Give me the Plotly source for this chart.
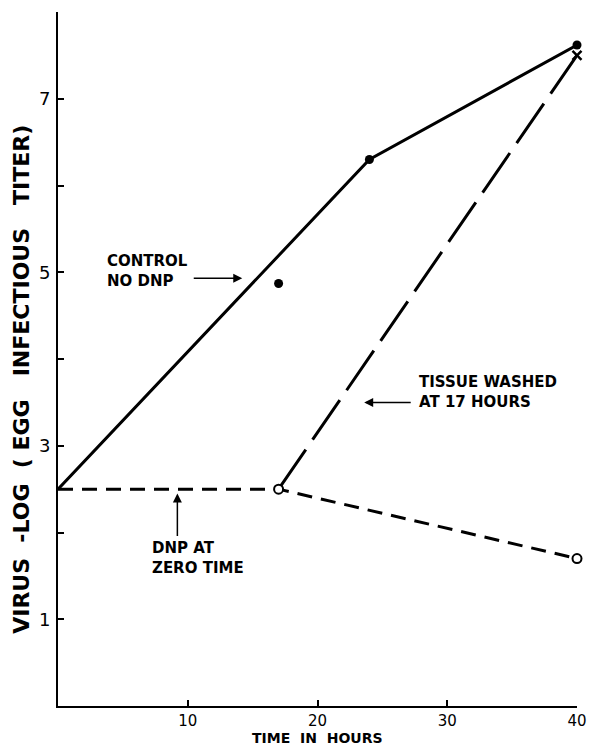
import plotly.graph_objects as go

# Control (no DNP)
control_line_x = [0, 24, 40]
control_line_y = [2.5, 6.3, 7.62]
control_pts_x = [17, 24, 40]
control_pts_y = [4.87, 6.3, 7.62]

# DNP at zero time
dnp_x = [0, 17, 40]
dnp_y = [2.5, 2.5, 1.7]
dnp_open_x = [17, 40]
dnp_open_y = [2.5, 1.7]

# Tissue washed at 17 hours
wash_x = [17, 40]
wash_y = [2.5, 7.5]

x_ticks = [10, 20, 30, 40]
y_tickvals = [1, 2, 3, 4, 5, 6, 7, 8]
y_ticktext = ["1", "", "3", "", "5", "", "7", ""]

FONT = "DejaVu Sans"
fig = go.Figure()

fig.add_trace(go.Scatter(x=control_line_x, y=control_line_y, mode="lines",
                         line=dict(color="black", width=3), cliponaxis=False,
                         showlegend=False))
fig.add_trace(go.Scatter(x=dnp_x, y=dnp_y, mode="lines",
                         line=dict(color="black", width=3, dash="15px,9px"),
                         cliponaxis=False, showlegend=False))
fig.add_trace(go.Scatter(x=wash_x, y=wash_y, mode="lines",
                         line=dict(color="black", width=3, dash="48px,12px"),
                         cliponaxis=False, showlegend=False))
fig.add_trace(go.Scatter(x=control_pts_x, y=control_pts_y, mode="markers",
                         marker=dict(color="black", size=9), cliponaxis=False,
                         showlegend=False))
fig.add_trace(go.Scatter(x=dnp_open_x, y=dnp_open_y, mode="markers",
                         marker=dict(color="white", size=9, symbol="circle",
                                     line=dict(color="black", width=2)),
                         cliponaxis=False, showlegend=False))
fig.add_trace(go.Scatter(x=[wash_x[-1]], y=[wash_y[-1]], mode="markers",
                         marker=dict(color="black", size=9, symbol="x-thin",
                                     line=dict(color="black", width=2.5)),
                         cliponaxis=False, showlegend=False))

afont = dict(family=FONT, size=15, color="black", weight="bold")
annotations = [
    dict(x=3.6, y=5.01, text="CONTROL<br>NO DNP", showarrow=False,
         xanchor="left", yanchor="middle", align="left", font=afont),
    dict(x=14.2, y=4.93, ax=-50, ay=0, text="", showarrow=True,
         arrowhead=2, arrowsize=1.2, arrowwidth=1.5, arrowcolor="black"),
    dict(x=27.7, y=3.62, text="TISSUE WASHED<br>AT 17 HOURS", showarrow=False,
         xanchor="left", yanchor="middle", align="left", font=afont),
    dict(x=23.6, y=3.5, ax=48, ay=0, text="", showarrow=True,
         arrowhead=2, arrowsize=1.2, arrowwidth=1.5, arrowcolor="black"),
    dict(x=7.1, y=1.71, text="DNP AT<br>ZERO TIME", showarrow=False,
         xanchor="left", yanchor="middle", align="left", font=afont),
    dict(x=9.2, y=2.45, ax=0, ay=44, text="", showarrow=True,
         arrowhead=2, arrowsize=1.2, arrowwidth=1.5, arrowcolor="black"),
    # axis titles
    dict(x=20, xref="x", y=0, yref="paper", yshift=-32, yanchor="middle",
         text="TIME  IN  HOURS", showarrow=False,
         font=dict(family=FONT, size=14, color="black", weight="bold")),
    dict(x=0, xref="paper", xshift=-36, xanchor="center", y=3.76, yref="y",
         yanchor="middle", textangle=-90, showarrow=False,
         text="VIRUS  -LOG  ( EGG   INFECTIOUS   TITER)",
         font=dict(family=FONT, size=22, color="black", weight="bold")),
]

# the page adds an 8px body margin, so the figure is 8px smaller on each side
fig.update_layout(
    width=595, height=739,
    margin=dict(l=50, r=26, t=4, b=41),
    paper_bgcolor="white", plot_bgcolor="white",
    font=dict(family=FONT, size=16, color="black"),
    annotations=annotations,
    xaxis=dict(range=[0, 40], tickvals=x_ticks, ticks="inside", ticklen=6,
               tickwidth=1.5, tickcolor="black", showline=True, linewidth=2,
               linecolor="black", showgrid=False, zeroline=False,
               automargin=False, tickfont=dict(size=15), ticklabelstandoff=0),
    yaxis=dict(range=[0, 8], tickvals=y_tickvals, ticktext=y_ticktext,
               ticks="inside", ticklen=6, tickwidth=1.5, tickcolor="black",
               showline=True, linewidth=2, linecolor="black", showgrid=False,
               zeroline=False, automargin=False, tickfont=dict(size=18),
               ticklabelstandoff=2),
)

fig.write_html("out.html")
